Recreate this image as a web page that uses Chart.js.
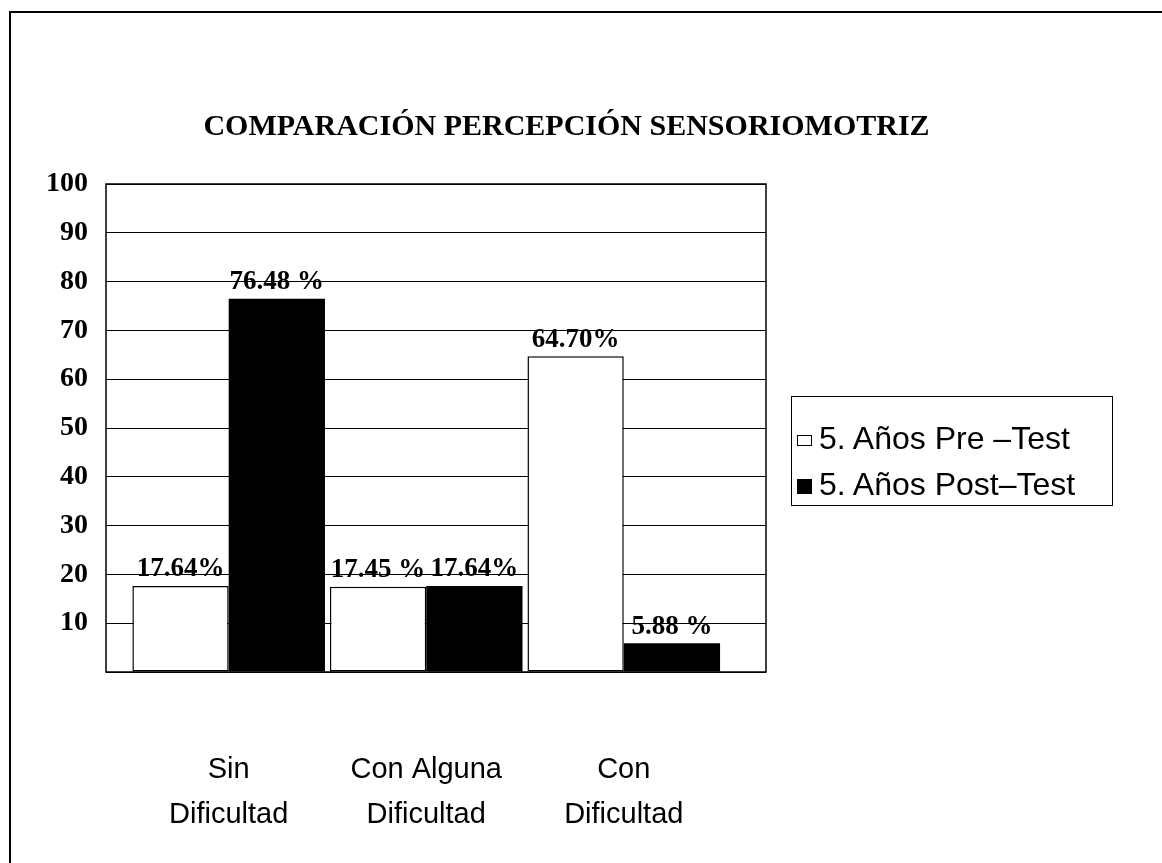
<!DOCTYPE html>
<html>
<head>
<meta charset="utf-8">
<script src="https://cdn.jsdelivr.net/npm/chart.js@4.4.1/dist/chart.umd.min.js"></script>
<style>
  html, body { margin: 0; padding: 0; background: #fff; }
  body { width: 1162px; height: 863px; position: relative; overflow: hidden; }
  #frame { position: absolute; left: 9px; top: 11px; right: 0; bottom: 0; border-top: 2px solid #000; border-left: 2px solid #000; }
  #wrap { position: absolute; left: 0; top: 0; width: 1162px; height: 863px; }
  #title { position: absolute; left: 0; width: 1133px; top: 108px; text-align: center;
           font: bold 30px "Liberation Serif", "Times New Roman", serif; color: #000; white-space: nowrap; }
  #legend { position: absolute; left: 791px; top: 396px; width: 320px; height: 108px; border: 1px solid #000;
            font: 32px "Liberation Sans", Arial, sans-serif; color: #000; }
  .item { position: absolute; left: 5px; height: 34px; line-height: 34px; white-space: nowrap; }
  .sw { display: inline-block; width: 15px; vertical-align: middle; margin-right: 7px; box-sizing: border-box; }
</style>
</head>
<body>
<div id="frame"></div>
<div id="wrap"><canvas id="c" width="1162" height="863"></canvas></div>
<div id="title"></div>
<div id="legend"></div>
<script>
const chartTitle = "COMPARACIÓN PERCEPCIÓN SENSORIOMOTRIZ";
const categories = [["Sin", "Dificultad"], ["Con Alguna", "Dificultad"], ["Con", "Dificultad"]];
const seriesNames = ["5. Años Pre –Test", "5. Años Post–Test"];
const preTest = [17.64, 17.45, 64.70];
const postTest = [76.48, 17.64, 5.88];
const preLabels = ["17.64%", "17.45 %", "64.70%"];
const postLabels = ["76.48 %", "17.64%", "5.88 %"];
const yTicks = [10, 20, 30, 40, 50, 60, 70, 80, 90, 100];

document.getElementById('title').textContent = chartTitle;

const legend = document.getElementById('legend');
[
  { name: seriesNames[0], fill: '#fff', h: 11, top: 24 },
  { name: seriesNames[1], fill: '#000', h: 15, top: 70 }
].forEach(it => {
  const d = document.createElement('div');
  d.className = 'item';
  d.style.top = it.top + 'px';
  const s = document.createElement('span');
  s.className = 'sw';
  s.style.height = it.h + 'px';
  s.style.background = it.fill;
  s.style.border = '1px solid #000';
  d.appendChild(s);
  d.appendChild(document.createTextNode(it.name));
  legend.appendChild(d);
});

const labelsByDataset = [preLabels, postLabels];

const frameAndLabels = {
  id: 'frameAndLabels',
  afterDatasetsDraw(chart) {
    const ctx = chart.ctx;
    const a = chart.chartArea;
    ctx.save();
    ctx.strokeStyle = '#000';
    ctx.lineWidth = 1.5;
    ctx.strokeRect(a.left, a.top, a.right - a.left, a.bottom - a.top);
    ctx.font = 'bold 27px "Liberation Serif", "Times New Roman", serif';
    ctx.fillStyle = '#000';
    ctx.textAlign = 'center';
    ctx.textBaseline = 'bottom';
    chart.data.datasets.forEach((ds, di) => {
      const meta = chart.getDatasetMeta(di);
      meta.data.forEach((el, i) => {
        ctx.fillText(labelsByDataset[di][i], el.x, el.y - 3);
      });
    });
    ctx.restore();
  }
};

new Chart(document.getElementById('c'), {
  type: 'bar',
  data: {
    datasets: [
      { label: seriesNames[0], data: preTest.map((v, i) => ({ x: i, y: v })),
        backgroundColor: '#fff', borderColor: '#000', borderWidth: 1.5, borderSkipped: false },
      { label: seriesNames[1], data: postTest.map((v, i) => ({ x: i, y: v })),
        backgroundColor: '#000', borderColor: '#000', borderWidth: 0 }
    ]
  },
  options: {
    responsive: false,
    animation: false,
    devicePixelRatio: 1,
    layout: { padding: { left: 0, top: 184, right: 396, bottom: 0 } },
    datasets: { bar: { categoryPercentage: 0.975, barPercentage: 1.0, grouped: true } },
    plugins: { legend: { display: false }, title: { display: false }, tooltip: { enabled: false } },
    scales: {
      x: {
        type: 'linear',
        min: -0.621, max: 2.72,
        offset: false,
        afterBuildTicks: s => { s.ticks = categories.map((c, i) => ({ value: i })); },
        afterFit: s => { s.height = 191; },
        ticks: {
          callback: v => categories[v],
          color: '#000',
          font: { family: '"Liberation Sans", Arial, sans-serif', size: 29, lineHeight: 1.55 },
          padding: 76,
          maxRotation: 0, autoSkip: false
        },
        grid: { display: false, drawTicks: false },
        border: { display: false }
      },
      y: {
        min: 0, max: 100,
        afterBuildTicks: s => { s.ticks = [0].concat(yTicks).map(v => ({ value: v })); },
        afterFit: s => { s.width = 106; },
        ticks: {
          callback: v => (v === 0 ? '' : String(v)),
          color: '#000',
          font: { family: '"Liberation Serif", "Times New Roman", serif', size: 28, weight: 'bold' },
          padding: 18
        },
        grid: { color: '#000', lineWidth: 1, drawTicks: false },
        border: { display: false }
      }
    }
  },
  plugins: [frameAndLabels]
});
</script>
</body>
</html>
